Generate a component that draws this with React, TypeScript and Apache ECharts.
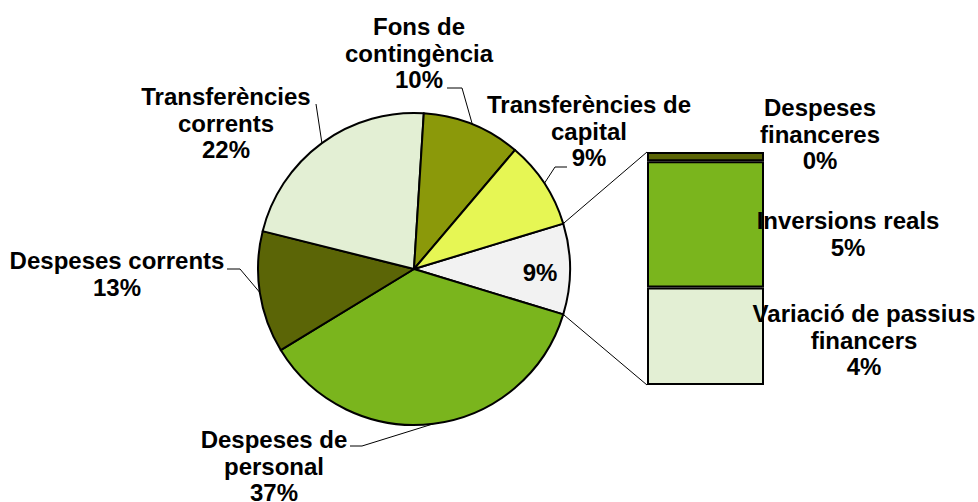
import React, { useEffect, useRef } from 'react';
import * as echarts from 'echarts';

// ---- data ----
const mainCategories = [
  'Despeses de\npersonal',
  'Despeses corrents',
  'Transferències\ncorrents',
  'Fons de\ncontingència',
  'Transferències de\ncapital',
];
const mainValues = [36.6, 12.6, 22.1, 10.2, 9.1];

const barCategories = ['Variació de passius\nfinancers', 'Inversions reals', 'Despeses\nfinanceres'];
const barValues = [3.93, 5.1, 0.37];

// ---- styles ----
const pieColors = ['#7ab51d', '#5b6506', '#e3efd4', '#8b990a', '#e6f654'];
const otherColor = '#f2f2f2';
const barColors = ['#e3efd4', '#7ab51d', '#5b6506'];

const W = 978;
const H = 502;
const CX = 414;
const CY = 269;
const R = 156;
const GRID = { left: 647, top: 152, width: 117, height: 233 };

const FONT = {
  fontFamily: 'Liberation Sans, Arial, sans-serif',
  fontWeight: 'bold' as const,
  fontSize: 24,
  lineHeight: 26.5,
  color: '#000',
};

// label positions (index 0 = "other" slice, then mainCategories)
const pieLabelPos: { x: number; y: number; line?: number[][] }[] = [
  { x: 540, y: 272 },
  { x: 274, y: 466, line: [[362, 446], [350, 446]] },
  { x: 117, y: 274, line: [[240, 269], [227, 269]] },
  { x: 226, y: 123, line: [[316, 104], [316, 104]] },
  { x: 419, y: 53, line: [[462, 88], [447, 88]] },
  { x: 589, y: 131, line: [[555, 167], [567, 167]] },
];
const barLabelPos = [
  { x: 864, y: 340 },
  { x: 848, y: 234 },
  { x: 820, y: 134 },
];

export default function App() {
  const ref = useRef<HTMLDivElement>(null);

  useEffect(() => {
    document.body.style.margin = '0';
    if (!ref.current) return;
    const chart = echarts.init(ref.current, undefined, { renderer: 'svg' });

    const otherValue = barValues.reduce((a, b) => a + b, 0);
    const pieVals = [otherValue, ...mainValues];
    const total = pieVals.reduce((a, b) => a + b, 0);
    const startAngle = (otherValue / total) * 180;

    // arc mid points computed from data
    const midPts: number[][] = [];
    let cum = 0;
    pieVals.forEach((v) => {
      const midDeg = startAngle - ((cum + v / 2) / total) * 360;
      const rad = (midDeg * Math.PI) / 180;
      midPts.push([CX + R * Math.cos(rad), CY - R * Math.sin(rad)]);
      cum += v;
    });

    const pieData = [
      {
        name: '',
        value: otherValue,
        itemStyle: { color: otherColor },
        label: { position: 'inside', formatter: '{d}%' },
        labelLine: { show: false },
      },
      ...mainCategories.map((name, i) => ({
        name,
        value: mainValues[i],
        itemStyle: { color: pieColors[i] },
      })),
    ];

    const half = (startAngle * Math.PI) / 180;
    const edgeTop = [CX + R * Math.cos(half), CY - R * Math.sin(half)];
    const edgeBot = [CX + R * Math.cos(half), CY + R * Math.sin(half)];

    const barSeries = barCategories.map((name, i) => ({
      type: 'bar',
      name,
      stack: 'other',
      barWidth: '100%',
      data: [barValues[i]],
      itemStyle: { color: barColors[i], borderColor: '#000', borderWidth: 2 },
      label: {
        show: true,
        position: 'inside',
        formatter: () => `${name}\n${Math.round(barValues[i])}%`,
        ...FONT,
      },
      labelLayout: () => ({
        x: barLabelPos[i].x,
        y: barLabelPos[i].y,
        align: 'center',
        verticalAlign: 'middle',
      }),
      z: 3,
    }));

    chart.setOption({
      animation: false,
      backgroundColor: '#fff',
      grid: { ...GRID, containLabel: false },
      xAxis: { type: 'category', data: ['other'], show: false },
      yAxis: { type: 'value', min: 0, max: otherValue, show: false },
      graphic: [
        {
          type: 'line',
          shape: { x1: edgeTop[0], y1: edgeTop[1], x2: GRID.left, y2: GRID.top },
          style: { stroke: '#000', lineWidth: 1 },
          z: 1,
        },
        {
          type: 'line',
          shape: { x1: edgeBot[0], y1: edgeBot[1], x2: GRID.left, y2: GRID.top + GRID.height },
          style: { stroke: '#000', lineWidth: 1 },
          z: 1,
        },
      ],
      series: [
        {
          type: 'pie',
          center: [CX, CY],
          radius: R,
          startAngle,
          clockwise: true,
          avoidLabelOverlap: false,
          percentPrecision: 0,
          itemStyle: { borderColor: '#000', borderWidth: 2 },
          label: {
            show: true,
            position: 'outside',
            formatter: '{b}\n{d}%',
            ...FONT,
          },
          labelLine: {
            show: true,
            length: 10,
            length2: 10,
            lineStyle: { color: '#000', width: 1 },
          },
          emphasis: { disabled: true },
          labelLayout: (params: any) => {
            const cfg = pieLabelPos[params.dataIndex];
            const res: any = { x: cfg.x, y: cfg.y, align: 'center', verticalAlign: 'middle' };
            if (cfg.line) {
              res.labelLinePoints = [midPts[params.dataIndex], ...cfg.line];
            }
            return res;
          },
          data: pieData,
          z: 2,
        },
        ...barSeries,
      ],
    });

    return () => chart.dispose();
  }, []);

  return <div ref={ref} style={{ width: W, height: H }} />;
}
